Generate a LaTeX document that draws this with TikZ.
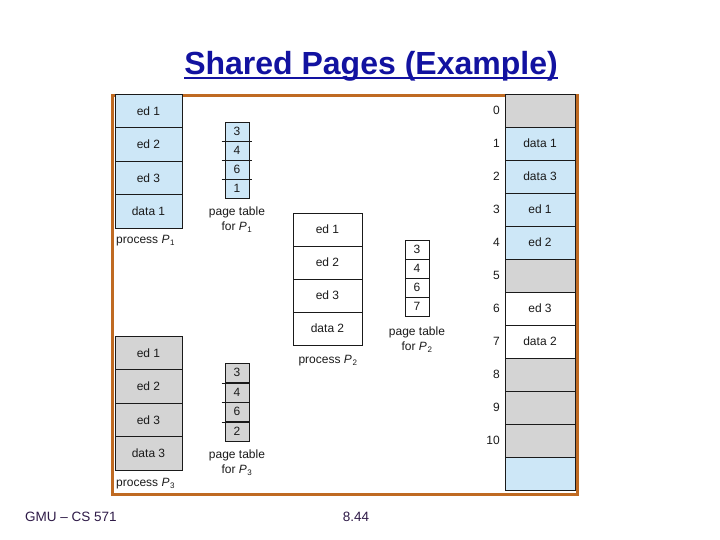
\documentclass[tikz,border=0pt]{standalone}
\usepackage{fontspec}
\setmainfont{Liberation Sans}
\usetikzlibrary{positioning}
\definecolor{framec}{HTML}{BF6A22}
\definecolor{titlec}{HTML}{1212A0}
\definecolor{footc}{HTML}{2E1A47}
\definecolor{pgblue}{HTML}{CDE7F7}
\definecolor{pggray}{HTML}{D4D4D4}
\definecolor{inkc}{HTML}{1A1A1A}
\newcommand{\Pn}[1]{\textit{P}\kern0.6pt\textsubscript{#1}}
\tikzset{
  pg/.style={draw=inkc,line width=0.9pt,minimum width=67pt,minimum height=33.5pt,inner sep=0pt,text=inkc,font=\fontsize{12}{14}\selectfont},
  pt/.style={draw=inkc,line width=0.9pt,minimum width=24pt,minimum height=19pt,inner sep=0pt,text=inkc,font=\fontsize{12}{14}\selectfont},
  fr/.style={pg,minimum width=70pt,minimum height=33pt},
  lbl/.style={align=center,inner sep=0pt,text=inkc,font=\fontsize{12}{15}\selectfont},
  tick/.style={inkc,line width=0.9pt}
}
\begin{document}
\begin{tikzpicture}[x=1pt,y=-1pt]
\useasboundingbox (0,0) rectangle (720,540);
\node[text=titlec,inner sep=0pt,font=\fontsize{32}{34}\bfseries] (title) at (371,66) {Shared Pages (Example)};
\draw[titlec,line width=2.2pt] ([yshift=-4pt]title.base west) -- ([yshift=-4pt]title.base east);
\draw[framec,line width=3pt] (112,96) rectangle (577,494);

% process P1 and its page table
\foreach \t [count=\i] in {ed 1,ed 2,ed 3,data 1}
  \node[pg,fill=pgblue] (pa\i) at (148.5,{77.25+33.5*\i}) {\t};
\node[lbl,anchor=west] (pal) at (116,241) {process \Pn{1}};
\foreach \v [count=\i] in {3,4,6,1}
  \node[pt,fill=pgblue] (ta\i) at (237,{112.5+19*\i}) {\v};
\foreach \i in {1,2,3}
  \draw[tick] ([xshift=-3pt]ta\i.south west) -- ([xshift=3pt]ta\i.south east);
\node[lbl] (tal) at (237,219.5) {page table\\for \Pn{1}};

% process P2 and its page table
\foreach \t [count=\i] in {ed 1,ed 2,ed 3,data 2}
  \node[pg,fill=white,minimum width=69pt,minimum height=33pt] (pb\i) at (327.5,{196.5+33*\i}) {\t};
\node[lbl] (pbl) at (328,361) {process \Pn{2}};
\foreach \v [count=\i] in {3,4,6,7}
  \node[pt,fill=white] (tb\i) at (417,{230.5+19*\i}) {\v};
\node[lbl] (tbl) at (417,339.5) {page table\\for \Pn{2}};

% process P3 and its page table
\foreach \t [count=\i] in {ed 1,ed 2,ed 3,data 3}
  \node[pg,fill=pggray] (pc\i) at (148.5,{319.25+33.5*\i}) {\t};
\node[lbl,anchor=west] (pcl) at (116,484) {process \Pn{3}};
\foreach \v [count=\i] in {3,4,6,2}
  \node[pt,fill=pggray,minimum height=19.5pt] (tc\i) at (237,{353.25+19.5*\i}) {\v};
\foreach \i in {1,2,3}
  \draw[tick] ([xshift=-3pt]tc\i.south west) -- (tc\i.south east);
\node[lbl] (tcl) at (237,462.5) {page table\\for \Pn{3}};

% physical memory
\foreach \c/\t [count=\i from 0] in {pggray/{},pgblue/data 1,pgblue/data 3,pgblue/ed 1,pgblue/ed 2,pggray/{},white/ed 3,white/data 2,pggray/{},pggray/{},pggray/{},pgblue/{}}
  \node[fr,fill=\c] (m\i) at (540,{110.5+33*\i}) {\t};
\foreach \i in {0,...,10}
  \node[lbl,anchor=east] (n\i) at (500,{110.5+33*\i}) {\i};

\node[text=footc,anchor=west,inner sep=0pt,font=\fontsize{13.5}{15}\selectfont] (foot) at (25,517) {GMU – CS 571};
\node[text=footc,inner sep=0pt,font=\fontsize{13.5}{15}\selectfont] (pnum) at (356,517) {8.44};
\end{tikzpicture}
\end{document}
